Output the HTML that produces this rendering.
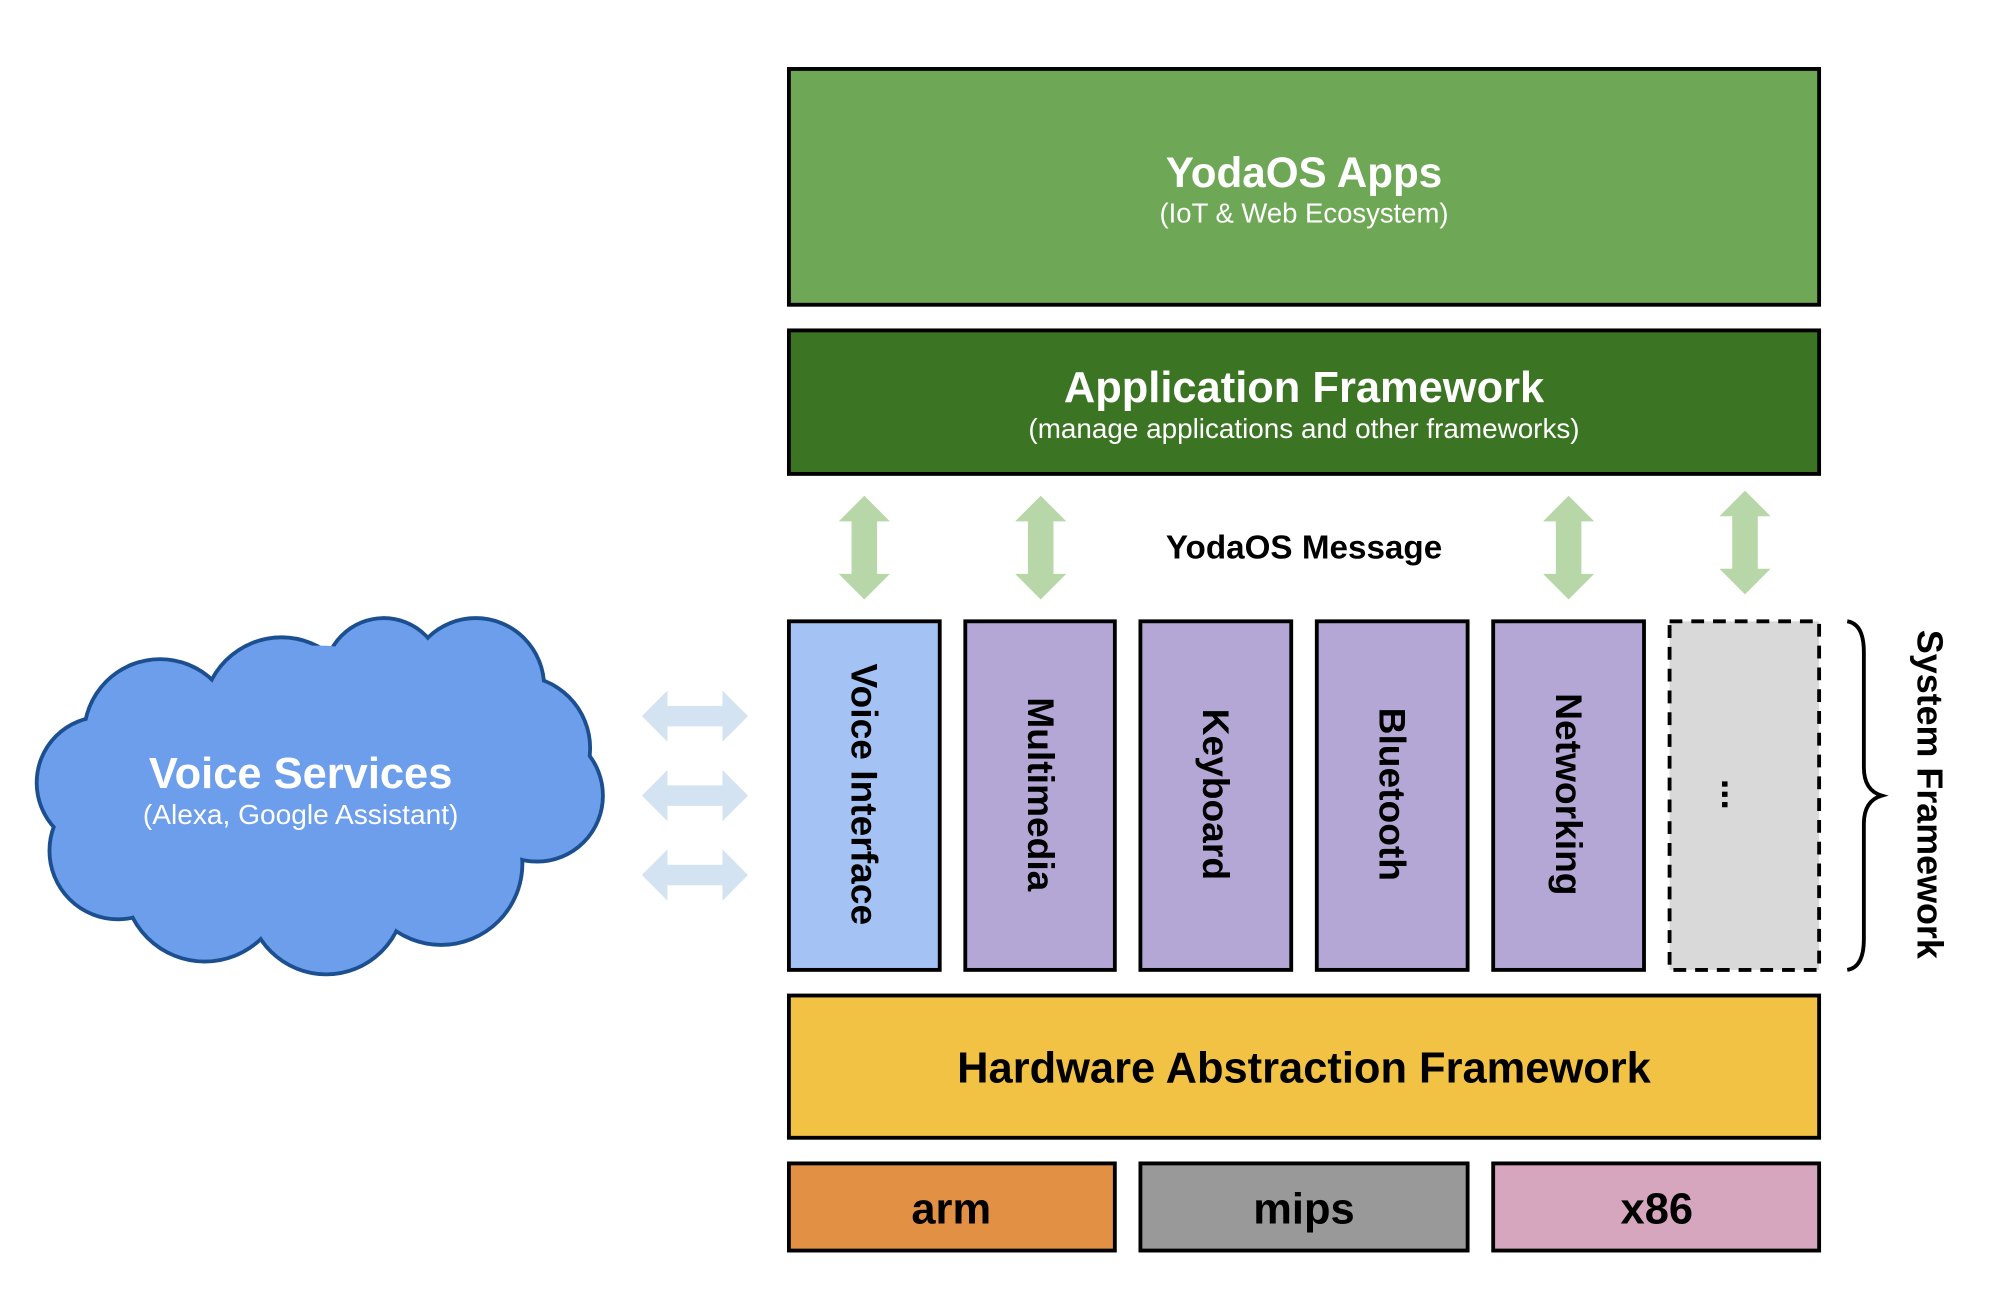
<!DOCTYPE html>
<html><head><meta charset="utf-8"><style>html,body{margin:0;padding:0;background:#fff}svg{display:block}text{font-family:"Liberation Sans",Arial,sans-serif}</style></head>
<body>
<svg width="2004" height="1306" viewBox="0 0 1560 1016" preserveAspectRatio="none" xmlns="http://www.w3.org/2000/svg">
<g transform="translate(0.2,-1.2) scale(0.995,0.997)">
<rect x="617" y="55" width="806" height="184" fill="#6ea856" stroke="#000" stroke-width="3"/>
<text x="1020" y="147" text-anchor="middle" font-size="33" font-weight="bold" fill="#fff">YodaOS Apps</text>
<text x="1020" y="175" text-anchor="middle" font-size="21.5" fill="#fff">(IoT &amp; Web Ecosystem)</text>
<rect x="617" y="259" width="806" height="112" fill="#3b7524" stroke="#000" stroke-width="3"/>
<text x="1020" y="315" text-anchor="middle" font-size="34" font-weight="bold" fill="#fff">Application Framework</text>
<text x="1020" y="343" text-anchor="middle" font-size="21.8" fill="#fff">(manage applications and other frameworks)</text>
<g fill="#b7d7a8">
<path d="M656,408 L676,388 L696,408 L686,408 L686,449 L696,449 L676,469 L656,449 L666,449 L666,408 Z"/>
<path d="M794,408 L814,388 L834,408 L824,408 L824,449 L834,449 L814,469 L794,449 L804,449 L804,408 Z"/>
<path d="M1207,408 L1227,388 L1247,408 L1237,408 L1237,449 L1247,449 L1227,469 L1207,449 L1217,449 L1217,408 Z"/>
<path d="M1345,404 L1365,384 L1385,404 L1375,404 L1375,445 L1385,445 L1365,465 L1345,445 L1355,445 L1355,404 Z"/>
</g>
<text x="1020" y="437" text-anchor="middle" font-size="26" font-weight="bold" fill="#000">YodaOS Message</text>
<g stroke="#000" stroke-width="3">
<rect x="617" y="486" width="118" height="272" fill="#a4c2f4"/>
<rect x="755" y="486" width="117" height="272" fill="#b4a7d6"/>
<rect x="892" y="486" width="118" height="272" fill="#b4a7d6"/>
<rect x="1030" y="486" width="118" height="272" fill="#b4a7d6"/>
<rect x="1168" y="486" width="118" height="272" fill="#b4a7d6"/>
<rect x="1306" y="486" width="117" height="272" fill="#d9d9d9" stroke-dasharray="10,7"/>
</g>
<g font-size="29" font-weight="bold" fill="#000">
<text transform="translate(666,621) rotate(90)" text-anchor="middle">Voice Interface</text>
<text transform="translate(804,621) rotate(90)" text-anchor="middle">Multimedia</text>
<text transform="translate(941,621) rotate(90)" text-anchor="middle">Keyboard</text>
<text transform="translate(1079,621) rotate(90)" text-anchor="middle">Bluetooth</text>
<text transform="translate(1217,621) rotate(90)" text-anchor="middle">Networking</text>
<text transform="translate(1347,621) rotate(90)" text-anchor="middle">...</text>
<text transform="translate(1500,621) rotate(90)" text-anchor="middle" font-size="28">System Framework</text>
</g>
<path d="M1445,486 Q1458,488 1458,510 L1458,600 Q1458,618 1472,622 Q1458,626 1458,644 L1458,734 Q1458,756 1445,758" fill="none" stroke="#000" stroke-width="3"/>
<rect x="617" y="778" width="806" height="111" fill="#f1c243" stroke="#000" stroke-width="3"/>
<text x="1020" y="846" text-anchor="middle" font-size="34" font-weight="bold" fill="#000">Hardware Abstraction Framework</text>
<g stroke="#000" stroke-width="3">
<rect x="617" y="909" width="255" height="68" fill="#e29043"/>
<rect x="892" y="909" width="256" height="68" fill="#999"/>
<rect x="1168" y="909" width="255" height="68" fill="#d5a6bd"/>
</g>
<g font-size="34" font-weight="bold" fill="#000" text-anchor="middle">
<text x="744" y="956">arm</text><text x="1020" y="956">mips</text><text x="1296" y="956">x86</text>
</g>
<g fill="#d4e3f2">
<path d="M502,560 L522,540 L522,552 L565,552 L565,540 L585,560 L565,580 L565,568 L522,568 L522,580 Z"/>
<path d="M502,622 L522,602 L522,614 L565,614 L565,602 L585,622 L565,642 L565,630 L522,630 L522,642 Z"/>
<path d="M502,684 L522,664 L522,676 L565,676 L565,664 L585,684 L565,704 L565,692 L522,692 L522,704 Z"/>
</g>
<g stroke="#1c4f8f" stroke-width="6" fill="#6d9eeb">
<circle cx="125" cy="575" r="58"/><circle cx="220" cy="560" r="60"/><circle cx="300" cy="530" r="45"/>
<circle cx="372" cy="537" r="52"/><circle cx="405" cy="585" r="55"/><circle cx="420" cy="622" r="50"/>
<circle cx="345" cy="675" r="62"/><circle cx="255" cy="700" r="60"/><circle cx="160" cy="688" r="62"/>
<circle cx="92" cy="665" r="52"/><circle cx="80" cy="612" r="50"/>
</g>
<g fill="#6d9eeb">
<circle cx="125" cy="575" r="58"/><circle cx="220" cy="560" r="60"/><circle cx="300" cy="530" r="45"/>
<circle cx="372" cy="537" r="52"/><circle cx="405" cy="585" r="55"/><circle cx="420" cy="622" r="50"/>
<circle cx="345" cy="675" r="62"/><circle cx="255" cy="700" r="60"/><circle cx="160" cy="688" r="62"/>
<circle cx="92" cy="665" r="52"/><circle cx="80" cy="612" r="50"/><circle cx="250" cy="620" r="115"/>
</g>
<text x="235" y="616" text-anchor="middle" font-size="34" font-weight="bold" fill="#fff">Voice Services</text>
<text x="235" y="644" text-anchor="middle" font-size="22" fill="#fff">(Alexa, Google Assistant)</text>
</g>
</svg>
</body></html>
